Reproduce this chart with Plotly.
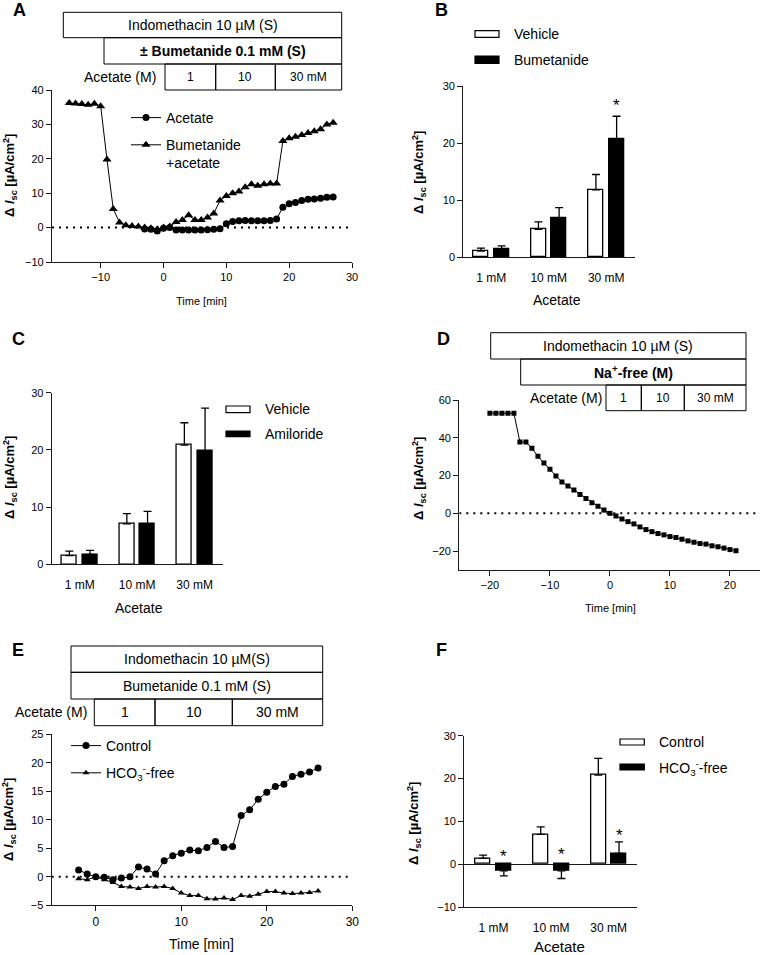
import plotly.graph_objects as go

W, H = 761, 955
FONT = "Liberation Sans, Arial, sans-serif"

# ---------------- data ----------------
# Panel A
a_time_bum = list(range(-15, 28))
a_bum = [36.2, 36.1, 35.9, 35.7, 36.0, 35.3, 19.8, 5.4, 1.5, 0.7, 0.5, 0.3, 0.0, -0.2, -0.5,
         0.0, 0.3, 1.6, 2.2, 3.6, 2.2, 2.2, 2.9, 4.1, 7.9, 9.2, 10.0, 10.5, 11.7, 12.6,
         12.2, 12.6, 12.8, 12.8, 25.2, 26.0, 26.4, 26.9, 27.5, 28.0, 28.6, 30.0, 30.5]
a_time_ace = list(range(-3, 28))
a_ace = [-0.4, -0.5, -1.0, -0.2, 0.0, -0.7, -0.7, -0.7, -0.7, -0.7, -0.6, -0.5, -0.3,
         1.1, 1.75, 2.0, 2.1, 2.0, 2.0, 2.0, 2.1, 2.5, 5.9, 6.9, 7.3, 7.9, 8.25, 8.35, 8.5, 8.8, 8.9]

# Bar panels
categories = ["1 mM", "10 mM", "30 mM"]
b_vehicle = [1.1, 4.9, 11.8]
b_vehicle_err = [0.5, 1.3, 2.7]
b_bum = [1.4, 6.9, 20.8]
b_bum_err = [0.6, 1.8, 3.9]

c_vehicle = [1.5, 7.05, 20.85]
c_vehicle_err = [0.8, 1.8, 3.9]
c_amil = [1.75, 7.05, 19.8]
c_amil_err = [0.7, 2.2, 7.5]

f_control = [1.35, 6.95, 20.8]
f_control_err = [0.75, 1.75, 3.9]
f_hco3 = [-1.55, -1.55, 2.5]
f_hco3_err = [1.2, 1.8, 2.7]

# Panel D
d_time = list(range(-20, 22))
d_nafree = [53, 53, 53, 53, 53,
            37.7, 37.7, 34.5, 30.2, 26.6, 23.3, 19.8, 16.6, 14.5, 12.3, 10.0, 7.9, 5.6, 3.8, 1.7,
            0.0, -1.4, -3.0, -4.4, -5.6, -7.2, -8.6, -9.7, -10.7, -11.4, -12.3, -12.8, -13.7,
            -14.6, -15.3, -16.0, -16.3, -17.2, -17.7, -18.4, -19.2, -19.8]

# Panel E
e_time = list(range(-2, 27))
e_control = [1.2, 0.5, 0.0, -0.1, -0.5, -0.2, 0.0, 1.7, 1.35, 0.5, 2.8, 3.7, 4.15, 4.7, 4.55,
             5.15, 6.2, 5.15, 5.3, 10.75, 11.75, 13.6, 14.85, 15.85, 16.25, 17.6, 18.0, 18.4, 19.1]
e_hco3 = [-0.35, -0.5, 0.0, -0.5, -1.0, -1.7, -1.8, -2.05, -1.7, -1.8, -1.7, -2.05, -2.85, -3.3,
          -3.3, -3.85, -3.9, -3.7, -4.0, -3.3, -3.4, -3.05, -2.6, -2.6, -2.85, -2.95, -2.85, -2.75, -2.5]

YTITLE = "<b>Δ <i>I</i><sub>sc</sub> [µA/cm<sup>2</sup>]</b>"


def fx(x):
    return x / W


def fy(y):
    return 1 - y / H


fig = go.Figure()

BLACK = "black"


def line_trace(x, y, name, symbol, size, xa, ya, legend, group):
    return go.Scatter(x=x, y=y, name=name, mode="lines+markers",
                      line=dict(color=BLACK, width=1),
                      marker=dict(symbol=symbol, size=size, color=BLACK),
                      xaxis=xa, yaxis=ya, legend=legend, legendgroup=group)


# A
fig.add_trace(line_trace(a_time_ace, a_ace, "Acetate", "circle", 7, "x", "y", "legend", "a1"))
fig.add_trace(line_trace(a_time_bum, a_bum, "Bumetanide<br>+acetate", "triangle-up", 8, "x", "y", "legend", "a2"))

# D
fig.add_trace(go.Scatter(x=d_time, y=d_nafree, mode="lines+markers", showlegend=False,
                         line=dict(color=BLACK, width=1),
                         marker=dict(symbol="square", size=5, color=BLACK),
                         xaxis="x4", yaxis="y4"))

# E
fig.add_trace(line_trace(e_time, e_control, "Control", "circle", 7, "x5", "y5", "legend2", "e1"))
fig.add_trace(line_trace(e_time, e_hco3, "HCO<sub>3</sub><sup>-</sup>-free", "triangle-up", 6, "x5", "y5", "legend2", "e2"))

# Bars
pos = [0, 1, 2]
BW = 0.26
OFF = 0.18


def bar_pair(v1, e1, v2, e2, xa, ya):
    out = []
    for vals, errs, fill, sign in ((v1, e1, "white", -1), (v2, e2, BLACK, 1)):
        up = [e if v >= 0 else 0 for v, e in zip(vals, errs)]
        dn = [e if v < 0 else 0 for v, e in zip(vals, errs)]
        out.append(go.Bar(x=pos, y=vals, width=BW, offset=sign * OFF - BW / 2,
                          marker=dict(color=fill, line=dict(color=BLACK, width=1.3)),
                          error_y=dict(type="data", symmetric=False, array=up, arrayminus=dn,
                                       color=BLACK, thickness=1.3, width=4),
                          showlegend=False, xaxis=xa, yaxis=ya))
    return out


for t in bar_pair(b_vehicle, b_vehicle_err, b_bum, b_bum_err, "x2", "y2"):
    fig.add_trace(t)
for t in bar_pair(c_vehicle, c_vehicle_err, c_amil, c_amil_err, "x3", "y3"):
    fig.add_trace(t)
for t in bar_pair(f_control, f_control_err, f_hco3, f_hco3_err, "x6", "y6"):
    fig.add_trace(t)

# ---------------- axes ----------------
base = dict(showline=True, linecolor="#1a1a1a", linewidth=1.2, ticks="outside", ticklen=5,
            tickwidth=1.2, tickcolor="#1a1a1a", showgrid=False, zeroline=False, automargin=False,
            tickfont=dict(family=FONT, size=11, color="black"), fixedrange=True)

panels = {
    # name: (x0, x1, y_top, y_bottom)
    "": (52, 352, 90, 262),
    "2": (463.3, 635, 86, 257.3),
    "3": (51.7, 222.7, 392.7, 564.3),
    "4": (459.3, 760, 400, 570),
    "5": (51.7, 352.3, 734.3, 905.3),
    "6": (464.3, 637.3, 735.7, 907),
}
xranges = {"": [-17.75, 30], "2": [-0.487, 2.5], "3": [-0.487, 2.487], "4": [-25.1, 25],
           "5": [-5.15, 30], "6": [-0.507, 2.497]}
yranges = {"": [-10, 40], "2": [0, 30], "3": [0, 30], "4": [-30, 60], "5": [-5, 25], "6": [-10, 30]}
ytickvals = {"": [-10, 0, 10, 20, 30, 40], "2": [0, 10, 20, 30], "3": [0, 10, 20, 30],
             "4": [-20, 0, 20, 40, 60], "5": [-5, 0, 5, 10, 15, 20, 25], "6": [-10, 0, 10, 20, 30]}
xtickvals = {"": [-10, 0, 10, 20, 30], "4": [-20, -10, 0, 10, 20], "5": [0, 10, 20, 30]}

lay = {}
for k, (x0, x1, yt, yb) in panels.items():
    xa = dict(base, domain=[fx(x0), fx(x1)], range=xranges[k], anchor="y" + k)
    ya = dict(base, domain=[fy(yb), fy(yt)], range=yranges[k], anchor="x" + k,
              tickvals=ytickvals[k])
    if k in xtickvals:
        xa["tickvals"] = xtickvals[k]
        if k == "5":
            xa["tickfont"] = dict(family=FONT, size=12, color="black")
    else:
        xa.update(tickvals=pos, ticktext=categories, tickcolor="rgba(0,0,0,0)", ticklen=9,
                  tickfont=dict(family=FONT, size=12, color="black"))
    if k == "6":
        ya.update(zeroline=True, zerolinecolor="#1a1a1a", zerolinewidth=1.2)
    lay["xaxis" + k] = xa
    lay["yaxis" + k] = ya

fig.update_layout(**lay)

shapes = []
annotations = []


def text(x, y, s, size=12, bold=False, xanchor="center", angle=0):
    annotations.append(dict(xref="paper", yref="paper", x=fx(x), y=fy(y), text=("<b>%s</b>" % s) if bold else s,
                            showarrow=False, xanchor=xanchor, yanchor="middle", textangle=angle,
                            font=dict(family=FONT, size=size, color="black")))


def rect(x0, y0, x1, y1, fill="rgba(0,0,0,0)", w=1):
    shapes.append(dict(type="rect", xref="paper", yref="paper", x0=fx(x0), x1=fx(x1), y0=fy(y1), y1=fy(y0),
                       line=dict(color=BLACK, width=w), fillcolor=fill))


# dotted zero lines
for xa, ya, x0, x1 in (("x", "y", -17.75, 30), ("x4", "y4", -25.1, 25), ("x5", "y5", -5.15, 30)):
    shapes.append(dict(type="line", xref=xa, yref=ya, x0=x0, x1=x1, y0=0, y1=0,
                       line=dict(color=BLACK, width=2, dash="2px,5px")))

# panel letters
for lab, x, y in (("A", 19, 10), ("B", 441, 10), ("C", 18, 339), ("D", 443, 339), ("E", 18, 650), ("F", 441, 650)):
    text(x, y, lab, size=18, bold=True)

# y titles
for x, y in ((10, 176), (419, 172), (10, 478), (419, 478), (9, 820), (414, 823)):
    text(x, y, YTITLE, size=13, angle=-90)

# x titles
text(202, 301, "Time [min]", size=11)
text(557, 300, "Acetate", size=14)
text(139, 608, "Acetate", size=14)
text(610, 608, "Time [min]", size=11)
text(202, 944, "Time [min]", size=14)
text(559, 946, "Acetate", size=15)

# Panel A header
rect(63.3, 12.3, 341.7, 37.7)
text(202.5, 25, "Indomethacin 10 µM (S)", size=14)
rect(104, 37.7, 341.7, 64)
text(222.8, 51, "± Bumetanide 0.1 mM (S)", size=14, bold=True)
text(157.7, 77, "Acetate (M)", size=14, xanchor="right")
for a, b, s in ((165, 215.7, "1"), (215.7, 275.3, "10"), (275.3, 341.7, "30 mM")):
    rect(a, 64, b, 90)
    text((a + b) / 2, 77, s, size=12)

# Panel D header
rect(490.7, 332.7, 746, 359)
text(618.3, 346, "Indomethacin 10 µM (S)", size=14)
rect(520.7, 359, 746, 385)
text(633.3, 372, "Na<sup>+</sup>-free (M)", size=14, bold=True)
text(604.3, 398, "Acetate (M)", size=14, xanchor="right")
for a, b, s in ((606, 641.3, "1"), (641.3, 684.3, "10"), (684.3, 746, "30 mM")):
    rect(a, 385, b, 410.7)
    text((a + b) / 2, 398, s, size=12)

# Panel E header
rect(71, 646, 322.7, 672.3)
text(196.8, 659, "Indomethacin 10 µM(S)", size=14)
rect(71, 672.3, 322.7, 699)
text(196.8, 685.7, "Bumetanide 0.1 mM (S)", size=14)
text(89.3, 712.3, "Acetate (M)", size=14, xanchor="right")
for a, b, s in ((94.3, 155, "1"), (155, 232.3, "10"), (232.3, 322.7, "30 mM")):
    rect(a, 699, b, 725.7)
    text((a + b) / 2, 712.3, s, size=14)

# bar legends
for (x0, x1, ya, yb, ta, tb, la, lb) in (
        (475, 499, (30.7, 37.3), (56, 63.3), 34, 60, "Vehicle", "Bumetanide"),
        (226, 250, (406, 412.7), (431, 436.7), 409.3, 434.3, "Vehicle", "Amiloride"),
        (620, 644.3, (739, 745), (764, 770), 742.3, 767.7, "Control", "HCO<sub>3</sub><sup>-</sup>-free")):
    rect(x0, ya[0], x1, ya[1], fill="white", w=1.2)
    rect(x0, yb[0], x1, yb[1], fill=BLACK, w=1.2)
    text(x1 + 12.5, ta, la, size=14, xanchor="left")
    text(x1 + 12.5, tb, lb, size=14, xanchor="left")

# significance stars
for xa, ya, x, y in (("x2", "y2", 2 + OFF, 27.8), ("x6", "y6", 0 + OFF, 3.5), ("x6", "y6", 1 + OFF, 4.0),
                     ("x6", "y6", 2 + OFF, 8.3)):
    annotations.append(dict(xref=xa, yref=ya, x=x, y=y, text="*", showarrow=False, yanchor="middle",
                            yshift=-7, font=dict(family=FONT, size=17, color="black")))

leg_common = dict(xanchor="left", yanchor="top", bgcolor="rgba(0,0,0,0)", tracegroupgap=6,
                  font=dict(family=FONT, size=14, color="black"), itemwidth=30, valign="top")

fig.update_layout(
    width=W, height=H, autosize=False,
    margin=dict(l=0, r=0, t=0, b=0, pad=0, autoexpand=False),
    paper_bgcolor="white", plot_bgcolor="white",
    barmode="overlay", bargap=0,
    shapes=shapes, annotations=annotations,
    legend=dict(leg_common, x=fx(126), y=fy(102)),
    legend2=dict(leg_common, x=fx(66), y=fy(730)),
    font=dict(family=FONT, color="black"),
)

fig.write_html("out.html", config={"displayModeBar": False},
               post_script="document.body.style.margin='0px';")
